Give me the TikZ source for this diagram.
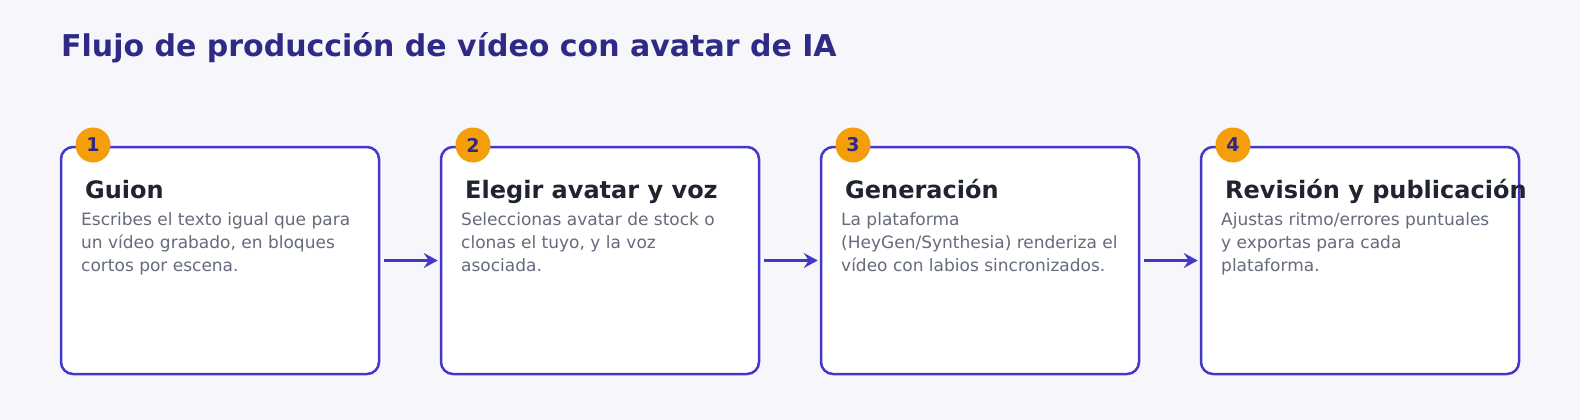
\documentclass[tikz,border=0pt]{standalone}
\usepackage{fontspec}
\setmainfont{DejaVu Sans}
\usetikzlibrary{arrows.meta}
\usetikzlibrary{positioning}

\definecolor{bgcol}{HTML}{F7F7FB}
\definecolor{edgecol}{HTML}{4338CA}
\definecolor{titlecol}{HTML}{2E2A85}
\definecolor{headcol}{HTML}{1F2430}
\definecolor{bodycol}{HTML}{646B7A}
\definecolor{badgecol}{HTML}{F59E0B}

\begin{document}
\begin{tikzpicture}[x=1pt, y=-1pt,
    stepbox/.style={draw=edgecol, line width=2.5pt, fill=white, rounded corners=12pt,
      minimum width=318pt, minimum height=227pt, inner sep=0pt},
    badge/.style={circle, fill=badgecol, minimum size=35pt, inner sep=0pt,
      text=titlecol, font=\fontsize{19}{19}\selectfont\bfseries},
    head/.style={anchor=base west, inner sep=0pt, text=headcol,
      font=\fontsize{24}{28}\selectfont\bfseries},
    body/.style={anchor=base west, inner sep=0pt, text=bodycol, align=left,
      font=\fontsize{17}{23}\selectfont},
    flow/.style={draw=edgecol, line width=3pt,
      -{Stealth[length=14pt, width=15pt, inset=5pt]}, shorten <=4pt, shorten >=2pt}]
      \fill[bgcol] (0,0) rectangle (1580,420);
      \useasboundingbox (0,0) rectangle (1580,420);
      \node[anchor=base west, inner sep=0pt, text=titlecol,
        font=\fontsize{30}{36}\selectfont\bfseries] (title) at (61,57)
        {Flujo de producción de vídeo con avatar de IA};
      % the four steps
      \node[stepbox] (b1) at (220,260.5) {};
      \node[stepbox] (b2) at (600,260.5) {};
      \node[stepbox] (b3) at (980,260.5) {};
      \node[stepbox] (b4) at (1360,260.5) {};
      \node[badge] (n1) at (93,145) {1};
      \node[badge] (n2) at (473,145) {2};
      \node[badge] (n3) at (853,145) {3};
      \node[badge] (n4) at (1233,145) {4};
      \node[head] (h1) at (85,198) {Guion};
      \node[head] (h2) at (465,198) {Elegir avatar y voz};
      \node[head] (h3) at (845,198) {Generación};
      \node[head] (h4) at (1225,198) {Revisión y publicación};
      % body text, anchored on its last line
      \node[body] (t1) at (81,271) {Escribes el texto igual que para\\un vídeo grabado, en bloques\\cortos por escena.};
      \node[body] (t2) at (461,271) {Seleccionas avatar de stock o\\clonas el tuyo, y la voz\\asociada.};
      \node[body] (t3) at (841,271) {La plataforma\\(HeyGen/Synthesia) renderiza el\\vídeo con labios sincronizados.};
      \node[body] (t4) at (1221,271) {Ajustas ritmo/errores puntuales\\y exportas para cada\\plataforma.};
      % arrows
      \draw[flow] (b1) -- (b2);
      \draw[flow] (b2) -- (b3);
      \draw[flow] (b3) -- (b4);
    \end{tikzpicture}
\end{document}
